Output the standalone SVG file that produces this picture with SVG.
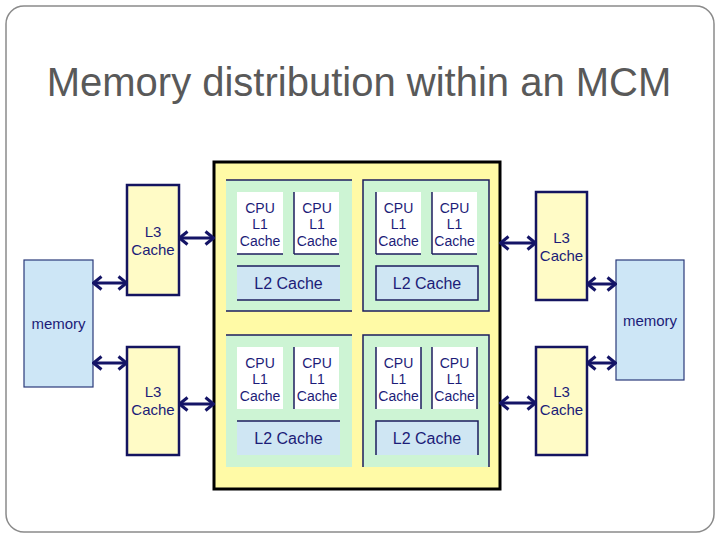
<svg xmlns="http://www.w3.org/2000/svg" width="720" height="540" viewBox="0 0 720 540">
<style>
.lbl{font-family:"Liberation Sans","DejaVu Sans",sans-serif;fill:#1c1c78;text-anchor:middle}
.cpu{font-size:14px}
.l2{font-size:16px}
.l3{font-size:15px}
.mem{font-size:15px}
.quad{fill:#cdf4d4}
.core{fill:#ffffff}
.l2box{fill:#cfe6f3}
.edge{stroke:#1c1c5e;stroke-width:1.5;fill:none}
.l3box{fill:#fffbc6;stroke:#141460;stroke-width:2.5}
.membox{fill:#cde6f6;stroke:#2a3a7a;stroke-width:1.2}
.conn{stroke:#141466;stroke-width:3;fill:none;marker-start:url(#ah);marker-end:url(#ah)}
</style>
<defs>
<marker id="ah" viewBox="0 -8 11 16" refX="10" refY="0" markerWidth="11" markerHeight="16" orient="auto-start-reverse" markerUnits="userSpaceOnUse">
<path d="M1.5,-6.5 L9.5,0 L1.5,6.5" fill="none" stroke="#141466" stroke-width="3"/>
</marker>
</defs>
<rect x="6" y="6" width="708" height="526" rx="18" fill="#ffffff" stroke="#8a8a8a" stroke-width="1.5"/>
<text x="359" y="96" font-family="Liberation Sans, Arial, sans-serif" font-size="40" fill="#595959" text-anchor="middle">Memory distribution within an MCM</text>

<g id="mcm">
<rect x="214" y="162" width="286" height="327" fill="#fffaa6" stroke="#000000" stroke-width="3"/>
</g>

<g id="quad-tl">
<rect class="quad" x="226" y="180" width="126" height="131"/>
<line class="edge" x1="226" y1="180" x2="352" y2="180"/>
<line class="edge" x1="226" y1="311" x2="352" y2="311"/>
<g id="cpu-tl-1">
<rect class="core" x="237" y="192" width="46" height="62"/>
<line class="edge" x1="237" y1="254" x2="283" y2="254"/>
<text class="lbl cpu" x="260" y="213">CPU</text><text class="lbl cpu" x="260" y="229">L1</text><text class="lbl cpu" x="260" y="246">Cache</text>
</g>
<g id="cpu-tl-2">
<rect class="core" x="294" y="192" width="45" height="62"/>
<line class="edge" x1="294" y1="192" x2="294" y2="254"/>
<line class="edge" x1="294" y1="254" x2="339" y2="254"/>
<text class="lbl cpu" x="317" y="213">CPU</text><text class="lbl cpu" x="317" y="229">L1</text><text class="lbl cpu" x="317" y="246">Cache</text>
</g>
<g id="l2-tl">
<rect class="l2box" x="237" y="266" width="103" height="34"/>
<line class="edge" x1="237" y1="266" x2="340" y2="266"/>
<line class="edge" x1="237" y1="300" x2="340" y2="300"/>
<text class="lbl l2" x="288.5" y="289">L2 Cache</text>
</g>
</g>

<g id="quad-tr">
<rect class="quad" x="363" y="180" width="126" height="131"/>
<rect class="edge" x="363" y="180" width="126" height="131"/>
<g id="cpu-tr-1">
<rect class="core" x="376" y="192" width="45" height="62"/>
<line class="edge" x1="376" y1="192" x2="376" y2="254"/>
<line class="edge" x1="376" y1="254" x2="421" y2="254"/>
<text class="lbl cpu" x="398.5" y="213">CPU</text><text class="lbl cpu" x="398.5" y="229">L1</text><text class="lbl cpu" x="398.5" y="246">Cache</text>
</g>
<g id="cpu-tr-2">
<rect class="core" x="432" y="192" width="45" height="62"/>
<line class="edge" x1="432" y1="192" x2="432" y2="254"/>
<line class="edge" x1="432" y1="254" x2="477" y2="254"/>
<text class="lbl cpu" x="454.5" y="213">CPU</text><text class="lbl cpu" x="454.5" y="229">L1</text><text class="lbl cpu" x="454.5" y="246">Cache</text>
</g>
<g id="l2-tr">
<rect class="l2box" x="376" y="266" width="102" height="34"/>
<rect class="edge" x="376" y="266" width="102" height="34"/>
<text class="lbl l2" x="427" y="289">L2 Cache</text>
</g>
</g>

<g id="quad-bl">
<rect class="quad" x="226" y="335" width="126" height="132"/>
<line class="edge" x1="226" y1="335" x2="352" y2="335"/>
<g id="cpu-bl-1">
<rect class="core" x="237" y="347" width="46" height="62"/>
<text class="lbl cpu" x="260" y="368">CPU</text><text class="lbl cpu" x="260" y="384">L1</text><text class="lbl cpu" x="260" y="401">Cache</text>
</g>
<g id="cpu-bl-2">
<rect class="core" x="294" y="347" width="45" height="62"/>
<line class="edge" x1="294" y1="347" x2="294" y2="409"/>
<text class="lbl cpu" x="317" y="368">CPU</text><text class="lbl cpu" x="317" y="384">L1</text><text class="lbl cpu" x="317" y="401">Cache</text>
</g>
<g id="l2-bl">
<rect class="l2box" x="237" y="421" width="103" height="34"/>
<line class="edge" x1="237" y1="421" x2="340" y2="421"/>
<text class="lbl l2" x="288.5" y="444">L2 Cache</text>
</g>
</g>

<g id="quad-br">
<rect class="quad" x="363" y="335" width="126" height="132"/>
<path class="edge" d="M363,467 V335 H489 V467"/>
<g id="cpu-br-1">
<rect class="core" x="376" y="347" width="45" height="62"/>
<line class="edge" x1="376" y1="347" x2="376" y2="409"/>
<line class="edge" x1="421" y1="347" x2="421" y2="409"/>
<text class="lbl cpu" x="398.5" y="368">CPU</text><text class="lbl cpu" x="398.5" y="384">L1</text><text class="lbl cpu" x="398.5" y="401">Cache</text>
</g>
<g id="cpu-br-2">
<rect class="core" x="432" y="347" width="45" height="62"/>
<line class="edge" x1="432" y1="347" x2="432" y2="409"/>
<line class="edge" x1="477" y1="347" x2="477" y2="409"/>
<text class="lbl cpu" x="454.5" y="368">CPU</text><text class="lbl cpu" x="454.5" y="384">L1</text><text class="lbl cpu" x="454.5" y="401">Cache</text>
</g>
<g id="l2-br">
<rect class="l2box" x="376" y="421" width="102" height="34"/>
<path class="edge" d="M376,455 V421 H478 V455"/>
<text class="lbl l2" x="427" y="444">L2 Cache</text>
</g>
</g>

<g id="l3-left-top">
<rect class="l3box" x="127" y="185" width="52" height="110"/>
<text class="lbl l3" x="153" y="237">L3</text><text class="lbl l3" x="153" y="255">Cache</text>
</g>
<g id="l3-left-bottom">
<rect class="l3box" x="127" y="347" width="52" height="108"/>
<text class="lbl l3" x="153" y="397">L3</text><text class="lbl l3" x="153" y="415">Cache</text>
</g>
<g id="l3-right-top">
<rect class="l3box" x="536" y="192" width="51" height="108"/>
<text class="lbl l3" x="561.5" y="243">L3</text><text class="lbl l3" x="561.5" y="261">Cache</text>
</g>
<g id="l3-right-bottom">
<rect class="l3box" x="536" y="347" width="51" height="108"/>
<text class="lbl l3" x="561.5" y="397">L3</text><text class="lbl l3" x="561.5" y="415">Cache</text>
</g>

<g id="memory-left">
<rect class="membox" x="24" y="260" width="69" height="127"/>
<text class="lbl mem" x="58.5" y="329">memory</text>
</g>
<g id="memory-right">
<rect class="membox" x="616" y="260" width="68" height="120"/>
<text class="lbl mem" x="650" y="326">memory</text>
</g>

<g id="connectors">
<line class="conn" x1="93" y1="283" x2="127" y2="283"/>
<line class="conn" x1="93" y1="363" x2="127" y2="363"/>
<line class="conn" x1="179" y1="238" x2="214" y2="238"/>
<line class="conn" x1="179" y1="404" x2="214" y2="404"/>
<line class="conn" x1="500" y1="243" x2="536" y2="243"/>
<line class="conn" x1="500" y1="403" x2="536" y2="403"/>
<line class="conn" x1="587" y1="284" x2="616" y2="284"/>
<line class="conn" x1="587" y1="363" x2="616" y2="363"/>
</g>
</svg>
